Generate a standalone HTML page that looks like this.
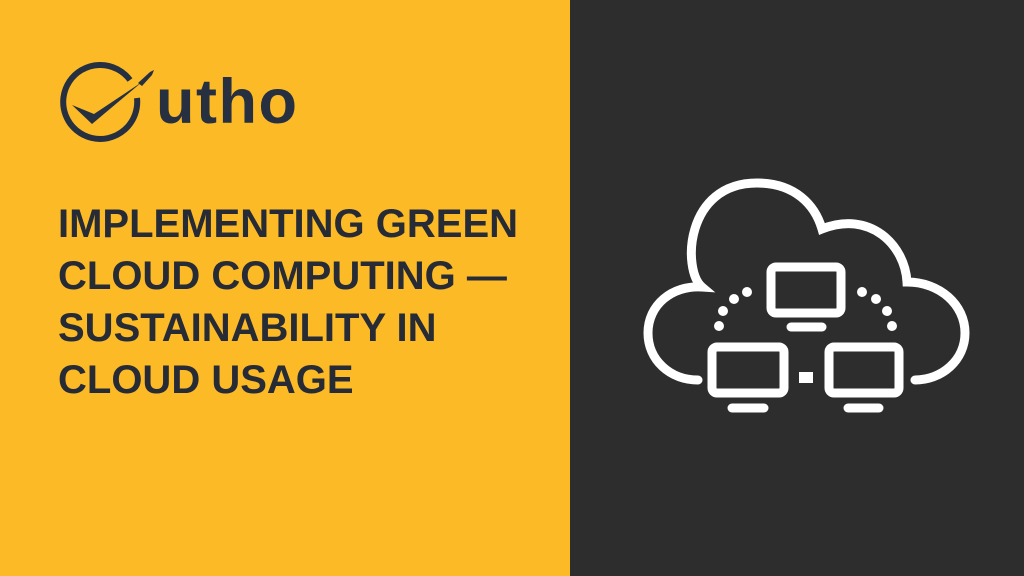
<!DOCTYPE html>
<html><head><style>
body{margin:0;width:1024px;height:576px;overflow:hidden;position:relative;font-family:"Liberation Sans",sans-serif}
.l{position:absolute;left:0;top:0;width:570px;height:576px;background:#FBBA26}
.r{position:absolute;left:570px;top:0;width:454px;height:576px;background:#2d2d2d}
.t{position:absolute;left:58px;top:198px;color:#262b35;font-weight:bold;font-size:40px;line-height:52px;white-space:nowrap;transform-origin:0 0;transform:scaleX(1.0)}
.logo{position:absolute;left:156px;top:66px;color:#263040;font-weight:bold;font-size:63px;letter-spacing:1.5px}
</style></head><body>
<div class="l"></div><div class="r"></div>
<svg style="position:absolute;left:0;top:0" width="570" height="200">
<path d="M130 80 A37 37 0 1 0 137 98" fill="none" stroke="#263040" stroke-width="6"/>
<path d="M72 105 L92 124 L142 82 L94 114 Z" fill="#263040"/>
<path d="M138 83 L150 72 L154 70 L152 75 L142 86 Z" fill="#263040"/>
</svg>
<div class="logo">utho</div>
<div class="t">IMPLEMENTING GREEN<br>CLOUD COMPUTING —<br>SUSTAINABILITY IN<br>CLOUD USAGE</div>
<svg style="position:absolute;left:0;top:0" width="1024" height="576">
<g fill="none" stroke="#fff" stroke-width="9" stroke-linecap="round">
<path d="M698 380 C670 380 648 360 648 333 C648 305 672 285 702 287 C682 270 685 183 757 183 C795 183 815 205 822 229 C870 210 905 245 907 282 C940 282 965 305 965 333 C965 360 942 380 915 380"/>
<rect x="771" y="267" width="70" height="46" rx="5"/>
<rect x="712" y="347" width="72" height="46" rx="5"/>
<rect x="829" y="347" width="70" height="46" rx="5"/>
<line x1="791" y1="327" x2="822" y2="327"/>
<line x1="732" y1="408" x2="764" y2="408"/>
<line x1="848" y1="408" x2="879" y2="408"/>
</g>
<rect x="799" y="372" width="14" height="11" fill="#fff"/>
<g fill="#fff">
<circle cx="747" cy="292" r="5"/><circle cx="734" cy="299" r="5"/><circle cx="723" cy="311" r="5"/><circle cx="719" cy="326" r="5"/>
<circle cx="862" cy="292" r="5"/><circle cx="876" cy="299" r="5"/><circle cx="887" cy="311" r="5"/><circle cx="892" cy="326" r="5"/>
</g>
</svg>
</body></html>
